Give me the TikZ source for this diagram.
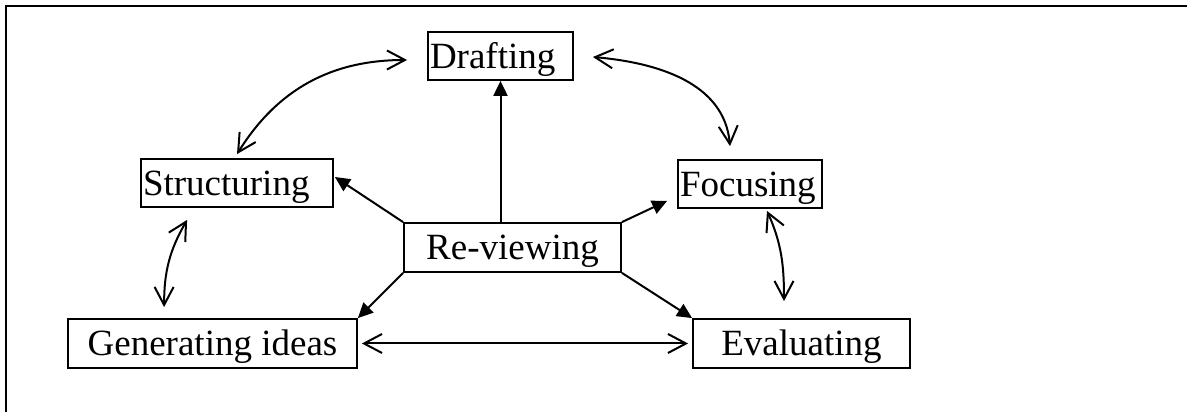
\documentclass[tikz,border=0pt]{standalone}
\usepackage{fontspec}
\setmainfont{Liberation Serif}
\usetikzlibrary{arrows.meta,calc}
\begin{document}
\begin{tikzpicture}[x=1pt,y=1pt,
  box/.style={draw, line width=1.8pt, inner xsep=2pt, inner ysep=0pt,
    font=\fontsize{37}{44}\selectfont, text height=24.5pt, text depth=0pt},
  leftbox/.style={box, align=left, minimum height=48pt},
  midbox/.style={box, minimum height=49pt},
  link/.style={line width=2pt},
  solidhead/.style={link, -{Triangle[length=15pt,width=14pt]}},
  twoway/.style={link, {Straight Barb[length=18pt,width=19pt]}-{Straight Barb[length=18pt,width=19pt]}}]

\useasboundingbox (0,0) rectangle (1187,412);

% outer frame (top and left rules)
\draw[line width=1.8pt] (6,-2) -- (6,406) -- (1189,406);

% stages of the writing process
\node[leftbox, text width=141pt] (D) at (500.5,356) {Drafting};
\node[leftbox, text width=188pt] (S) at (237,229) {Structuring};
\node[leftbox, text width=140pt] (F) at (750,228) {Focusing};
\node[midbox, minimum width=217pt] (R) at (512.5,164.5) {Re-viewing};
\node[midbox, minimum width=289pt] (G) at (212.5,68.5) {Generating ideas};
\node[midbox, minimum width=217pt] (E) at (801.5,68.5) {Evaluating};

% re-viewing feeds every stage
\draw[solidhead] (D.south |- R.north) -- (D.south);
\draw[solidhead] (R.north west) -- ($(S.east)+(1,6)$);
\draw[solidhead] (R.north east) -- ($(F.south west)+(-10,8)$);
\draw[solidhead] (R.south west) -- (G.north east);
\draw[solidhead] (R.south east) -- (E.north west);

% two-way links around the cycle
\coordinate (s1) at ($(S.south west)+(47,-12)$);
\coordinate (g1) at ($(G.north west)+(97,11)$);
\coordinate (d1) at ($(D.west)+(-20,-4)$);
\coordinate (s2) at ($(S.north)+(0,4)$);
\coordinate (d2) at ($(D.east)+(19,-1)$);
\coordinate (f1) at ($(F.north)+(-20,13)$);
\coordinate (f2) at ($(F.south)+(17,-2)$);
\coordinate (e1) at ($(E.north)+(-17.5,17)$);

\draw[twoway] ($(G.east)+(4,0)$) -- ($(E.west)+(-4,0)$);
\draw[twoway] (s1) to[out=240,in=90] (g1);
\draw[twoway] (s2) to[out=58,in=180] (d1);
\draw[twoway] (d2) to[out=-5,in=95] (f1);
\draw[twoway] (f2) to[out=294,in=90] (e1);
\end{tikzpicture}
\end{document}
